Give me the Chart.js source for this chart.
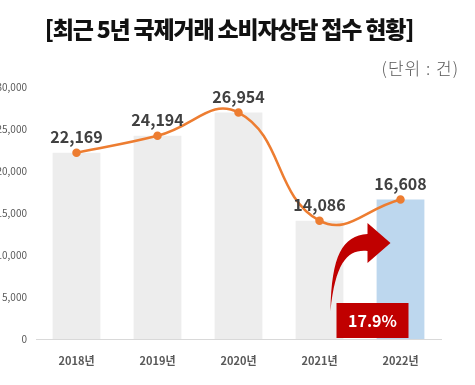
<!DOCTYPE html>
<html>
<head>
<meta charset="utf-8">
<script src="https://cdn.jsdelivr.net/npm/chart.js@4.4.1/dist/chart.umd.min.js"></script>
<style>
  body { margin: 0; background: #fff; }
  #wrap { position: relative; width: 475px; height: 385px; }
  #title {
    position: absolute; left: 0; top: 11px; width: 458px; text-align: center;
    font: 900 23px 'Noto Sans CJK KR'; letter-spacing: -1.2px; color: #111;
  }
  #unit {
    position: absolute; right: 16px; top: 55px;
    font: 300 17px 'Noto Sans CJK KR'; letter-spacing: 1px; color: #595959;
  }
  canvas { position: absolute; left: 0; top: 0; }
</style>
</head>
<body>
<div id="wrap">
  <canvas id="chart" width="475" height="385"></canvas>
  <div id="title">[최근 5년 국제거래 소비자상담 접수 현황]</div>
  <div id="unit">(단위 : 건)</div>
</div>
<script>
const years = ['2018년', '2019년', '2020년', '2021년', '2022년'];
const counts = [22169, 24194, 26954, 14086, 16608];
const barColors = ['#EDEDED', '#EDEDED', '#EDEDED', '#EDEDED', '#BDD7EE'];
const growthText = '17.9%';

const font = "'Noto Sans CJK KR'";

// value labels above the line points
const valueLabels = {
  id: 'valueLabels',
  afterDatasetsDraw(chart) {
    const ctx = chart.ctx;
    const meta = chart.getDatasetMeta(1);
    ctx.save();
    ctx.font = 'bold 16px ' + font;
    ctx.fillStyle = '#404040';
    ctx.textAlign = 'center';
    ctx.textBaseline = 'middle';
    meta.data.forEach((pt, i) => {
      ctx.fillText(counts[i].toLocaleString('en-US'), pt.x, pt.y - 16);
    });
    ctx.restore();
  }
};

// red growth arrow and box
const growthMark = {
  id: 'growthMark',
  afterDatasetsDraw(chart) {
    const ctx = chart.ctx;
    const x = chart.scales.x, y = chart.scales.y;
    const x3 = x.getPixelForValue(3), x4 = x.getPixelForValue(4);
    const base = y.getPixelForValue(0);
    ctx.save();
    ctx.fillStyle = '#C00000';
    // box
    ctx.fillRect(x3 + 17, base - 36, (x4 + 8) - (x3 + 17), 35);
    // arrow
    const ox = x3 + 11, oy = base - 28;
    ctx.beginPath();
    ctx.moveTo(ox, oy);
    ctx.bezierCurveTo(ox + 1, oy - 56, ox + 12, oy - 75, ox + 37, oy - 77);
    ctx.lineTo(ox + 37, oy - 88);
    ctx.lineTo(ox + 60, oy - 68);
    ctx.lineTo(ox + 37, oy - 48);
    ctx.lineTo(ox + 37, oy - 60);
    ctx.bezierCurveTo(ox + 18, oy - 62, ox + 5, oy - 50, ox, oy);
    ctx.fill();
    // text
    ctx.fillStyle = '#fff';
    ctx.font = 'bold 16px ' + font;
    ctx.textAlign = 'center';
    ctx.textBaseline = 'middle';
    ctx.fillText(growthText, (x3 + 17 + x4 + 8) / 2, base - 18);
    ctx.restore();
  }
};

new Chart(document.getElementById('chart'), {
  data: {
    labels: years,
    datasets: [
      {
        type: 'bar',
        data: counts,
        backgroundColor: barColors,
        categoryPercentage: 1,
        barPercentage: 0.59,
        order: 1
      },
      {
        type: 'line',
        data: counts,
        borderColor: '#ED7D31',
        backgroundColor: '#ED7D31',
        borderWidth: 2.5,
        pointRadius: 3,
        tension: 0.45,
        order: 0
      }
    ]
  },
  options: {
    responsive: false,
    animation: false,
    layout: { padding: { top: 87, right: 34, bottom: 0, left: 0 } },
    plugins: {
      legend: { display: false },
      tooltip: { enabled: false }
    },
    scales: {
      x: {
        grid: { display: false, drawTicks: false },
        border: { color: '#D9D9D9' },
        ticks: { color: '#595959', font: { family: font, size: 11, weight: 'bold' }, padding: 15 },
        afterFit(scale) { scale.height = 46; }
      },
      y: {
        min: 0,
        max: 30000,
        grid: { display: false, drawTicks: false },
        border: { display: false },
        ticks: {
          stepSize: 5000,
          color: '#595959',
          font: { family: font, size: 10 },
          padding: 9,
          callback: v => v.toLocaleString('en-US')
        },
        afterFit(scale) { scale.width = 36; }
      }
    }
  },
  plugins: [valueLabels, growthMark]
});
</script>
</body>
</html>
